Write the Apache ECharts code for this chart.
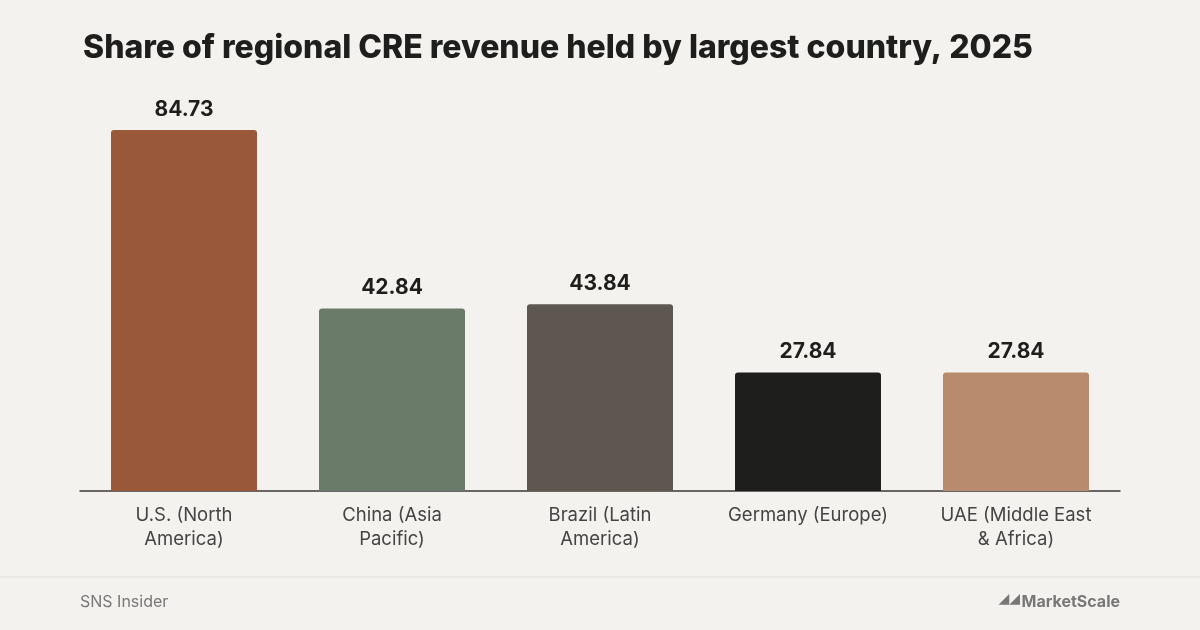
<!DOCTYPE html>
<html><head><meta charset="utf-8">
<script src="https://cdn.jsdelivr.net/npm/echarts@6/dist/echarts.min.js"></script>
<style>
html,body{margin:0;padding:0;background:#F4F2EE;}
#chart{width:1200px;height:630px;}
</style></head>
<body><div id="chart"></div>
<script>
const categories = ["U.S. (North\nAmerica)", "China (Asia\nPacific)", "Brazil (Latin\nAmerica)", "Germany (Europe)", "UAE (Middle East\n& Africa)"];
const values = [84.73, 42.84, 43.84, 27.84, 27.84];
const barColors = ["#9A583B", "#6A7B6A", "#5D5750", "#1E1E1C", "#B98B6E"];

var chart = echarts.init(document.getElementById("chart"), null, { renderer: "canvas" });

var option = {
  backgroundColor: "#F4F2EE",
  title: {
    text: "Share of regional CRE revenue held by largest country, 2025",
    left: 78, top: 27,
    textStyle: { fontFamily: "Inter", fontWeight: 800, fontSize: 32, color: "#1E1E1C" }
  },
  grid: { left: 80, right: 80, top: 65, bottom: 139 },
  xAxis: {
    type: "category",
    data: categories,
    axisTick: { show: false },
    axisLine: { lineStyle: { color: "#3A3A3A", width: 1.5 } },
    axisLabel: { fontFamily: "Inter", fontSize: 18.5, color: "#444", lineHeight: 24, margin: 12 }
  },
  yAxis: { type: "value", min: 0, max: 100, show: false },
  series: [{
    type: "bar",
    barWidth: 146,
    data: values.map((v, i) => ({ value: v, itemStyle: { color: barColors[i] } })),
    itemStyle: { borderRadius: [3, 3, 0, 0] },
    label: {
      show: true, position: "top", distance: 10,
      fontFamily: "Inter", fontWeight: "bold", fontSize: 21, color: "#1E1E1C",
      formatter: p => p.value.toFixed(2)
    }
  }],
  graphic: [
    { type: "line", shape: { x1: 0, y1: 577, x2: 1200, y2: 577 }, style: { stroke: "#E2DFDA", lineWidth: 1 } },
    { type: "text", left: 80, top: 594, style: { text: "SNS Insider", fontFamily: "Inter", fontSize: 16, fill: "#777" } },
    { type: "text", right: 80, top: 594, style: { text: "MarketScale", fontFamily: "Inter", fontWeight: "bold", fontSize: 16, fill: "#777" } },
    { type: "text", right: 180, top: 592, style: { text: "◢◢", fontFamily: "DejaVu Sans", fontSize: 14, fill: "#777" } }
  ]
};

option && chart.setOption(option);
</script></body></html>
